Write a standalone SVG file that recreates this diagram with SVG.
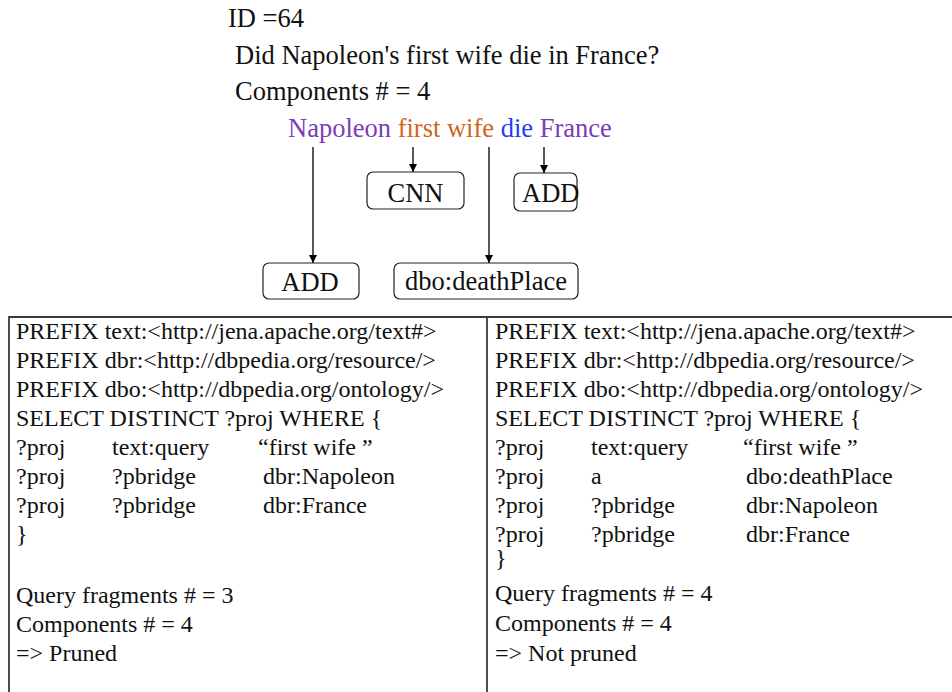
<svg xmlns="http://www.w3.org/2000/svg" width="952" height="692" viewBox="0 0 952 692">
  <defs>
    <marker id="arrow" viewBox="0 0 10 10" refX="10" refY="5" markerWidth="8" markerHeight="9" markerUnits="userSpaceOnUse" orient="auto">
      <path d="M0,0 L10,5 L0,10 z" fill="#000"/>
    </marker>
    <style>
      text { font-family: "Liberation Serif", "Times New Roman", serif; font-size: 24px; fill: #111; }
      .big { font-size: 26.5px; }
      .purple { fill: #7a3db8; }
      .orange { fill: #d2641e; }
      .blue { fill: #1f3cf5; }
      .box { fill: #fff; stroke: #222; stroke-width: 1.2; }
      .edge { stroke: #000; stroke-width: 1.3; fill: none; marker-end: url(#arrow); }
      .frame { stroke: #3a3a3a; stroke-width: 1.8; fill: none; }
    </style>
  </defs>
  <rect width="952" height="692" fill="#fff"/>

  <!-- question header -->
  <g id="header">
    <text class="big" x="228" y="27">ID =64</text>
    <text class="big" x="235" y="64">Did Napoleon's first wife die in France?</text>
    <text class="big" x="235" y="100">Components # = 4</text>
    <text class="big" x="288" y="137"><tspan class="purple">Napoleon</tspan> <tspan class="orange">first wife</tspan> <tspan class="blue">die</tspan> <tspan class="purple">France</tspan></text>
  </g>

  <!-- connectors from phrases to components -->
  <g id="connectors">
    <line class="edge" x1="313" y1="147" x2="313" y2="263"/>
    <line class="edge" x1="413" y1="147" x2="413" y2="172"/>
    <line class="edge" x1="489" y1="147" x2="489" y2="263"/>
    <line class="edge" x1="544" y1="147" x2="544" y2="173"/>
  </g>

  <g id="node-cnn">
    <rect class="box" x="367" y="172" width="97" height="37" rx="6"/>
    <text class="big" x="415.5" y="202" text-anchor="middle">CNN</text>
  </g>
  <g id="node-add-france">
    <rect class="box" x="514" y="173" width="63" height="38" rx="6"/>
    <text class="big" x="522" y="202">ADD</text>
  </g>
  <g id="node-add-napoleon">
    <rect class="box" x="263" y="263" width="96" height="36" rx="6"/>
    <text class="big" x="310" y="291" text-anchor="middle">ADD</text>
  </g>
  <g id="node-deathplace">
    <rect class="box" x="394" y="263" width="184" height="36" rx="6"/>
    <text class="big" x="486" y="290" text-anchor="middle">dbo:deathPlace</text>
  </g>

  <!-- query table -->
  <g id="table">
    <polyline class="frame" points="9,692 9,317 952,317"/>
    <line class="frame" x1="487" y1="317" x2="487" y2="692"/>
  </g>

  <g id="query-left">
    <text x="16" y="339">PREFIX text:&lt;http://jena.apache.org/text#&gt;</text>
    <text x="16" y="368">PREFIX dbr:&lt;http://dbpedia.org/resource/&gt;</text>
    <text x="16" y="397">PREFIX dbo:&lt;http://dbpedia.org/ontology/&gt;</text>
    <text x="16" y="426">SELECT DISTINCT ?proj WHERE {</text>
    <text x="16" y="455">?proj</text><text x="112" y="455">text:query</text><text x="258" y="455">“first wife ”</text>
    <text x="16" y="484">?proj</text><text x="112" y="484">?pbridge</text><text x="263" y="484">dbr:Napoleon</text>
    <text x="16" y="513">?proj</text><text x="112" y="513">?pbridge</text><text x="263" y="513">dbr:France</text>
    <text x="16" y="542">}</text>
    <text x="16" y="603">Query fragments # = 3</text>
    <text x="16" y="632">Components # = 4</text>
    <text x="16" y="661">=&gt; Pruned</text>
  </g>

  <g id="query-right">
    <text x="495" y="339">PREFIX text:&lt;http://jena.apache.org/text#&gt;</text>
    <text x="495" y="368">PREFIX dbr:&lt;http://dbpedia.org/resource/&gt;</text>
    <text x="495" y="397">PREFIX dbo:&lt;http://dbpedia.org/ontology/&gt;</text>
    <text x="495" y="426">SELECT DISTINCT ?proj WHERE {</text>
    <text x="495" y="455">?proj</text><text x="591" y="455">text:query</text><text x="743" y="455">“first wife ”</text>
    <text x="495" y="484">?proj</text><text x="591" y="484">a</text><text x="746" y="484">dbo:deathPlace</text>
    <text x="495" y="513">?proj</text><text x="591" y="513">?pbridge</text><text x="746" y="513">dbr:Napoleon</text>
    <text x="495" y="542">?proj</text><text x="591" y="542">?pbridge</text><text x="746" y="542">dbr:France</text>
    <text x="495" y="566">}</text>
    <text x="495" y="601">Query fragments # = 4</text>
    <text x="495" y="631">Components # = 4</text>
    <text x="495" y="661">=&gt; Not pruned</text>
  </g>
</svg>
